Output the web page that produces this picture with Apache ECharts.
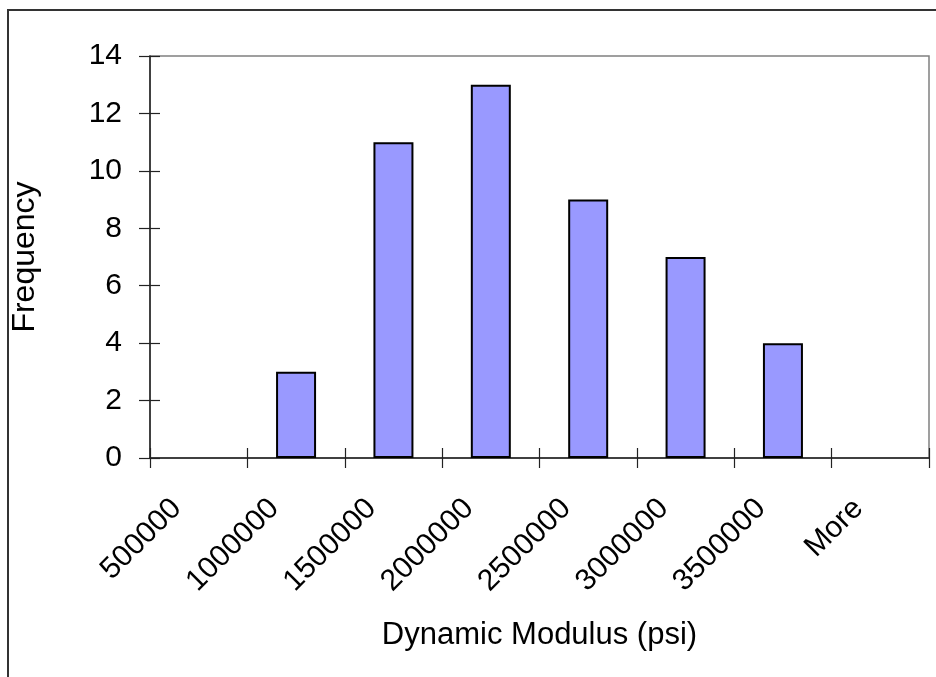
<!DOCTYPE html>
<html>
<head>
<meta charset="utf-8">
<script src="https://cdn.jsdelivr.net/npm/echarts@6/dist/echarts.min.js"></script>
<style>
  html, body { margin: 0; padding: 0; background: #fff; }
  #main { width: 936px; height: 677px; }
</style>
</head>
<body>
<div id="main"></div>
<script>
// histogram bins and counts
const categories = ['500000', '1000000', '1500000', '2000000', '2500000', '3000000', '3500000', 'More'];
const frequency = [0, 3, 11, 13, 9, 7, 4, 0];
const yTicks = { min: 0, max: 14, interval: 2 };

const FONT = '"Liberation Sans", Arial, sans-serif';
const chart = echarts.init(document.getElementById('main'));

const grid = { left: 150, top: 56, right: 7, bottom: 219 };

// empty bins get no outline (Excel draws nothing for a zero bar)
const barData = frequency.map(v => v === 0 ? { value: v, itemStyle: { borderWidth: 0 } } : v);

chart.setOption({
    animation: false,
    backgroundColor: '#fff',
    textStyle: { fontFamily: FONT },
    graphic: [{
        // outer chart frame (runs off the bottom/right of the picture)
        type: 'rect',
        shape: { x: 8, y: 10, width: 940, height: 700 },
        style: { fill: 'none', stroke: '#333', lineWidth: 2 },
        silent: true
    }],
    grid: Object.assign({ show: true, borderColor: '#808080', borderWidth: 1.5 }, grid),
    xAxis: [{
        type: 'category',
        data: categories,
        name: 'Dynamic Modulus (psi)',
        nameLocation: 'middle',
        nameGap: 162,
        nameTextStyle: { fontSize: 31, color: '#000', fontFamily: FONT },
        axisLine: { lineStyle: { color: '#222', width: 1.5 } },
        axisTick: { show: true, length: 10, lineStyle: { color: '#222', width: 1.2 } },
        axisLabel: { rotate: 45, fontSize: 30, color: '#000', margin: 24, padding: [0, 31, 0, 0], fontFamily: FONT, interval: 0 },
        splitLine: { show: false }
    }, {
        // inner half of the crossing ticks
        type: 'category',
        data: categories,
        position: 'bottom',
        axisLine: { show: false },
        axisTick: { show: true, inside: true, length: 10, lineStyle: { color: '#222', width: 1.2 } },
        axisLabel: { show: false },
        splitLine: { show: false }
    }],
    yAxis: [{
        type: 'value',
        min: yTicks.min,
        max: yTicks.max,
        interval: yTicks.interval,
        name: 'Frequency',
        nameLocation: 'middle',
        nameGap: 109,
        nameTextStyle: { fontSize: 32, color: '#000', fontFamily: FONT },
        axisLine: { show: true, lineStyle: { color: '#222', width: 1.5 } },
        axisTick: { show: true, length: 11, lineStyle: { color: '#222', width: 1.2 } },
        axisLabel: { fontSize: 30, color: '#000', margin: 28, fontFamily: FONT },
        splitLine: { show: false }
    }, {
        type: 'value',
        min: yTicks.min,
        max: yTicks.max,
        interval: yTicks.interval,
        position: 'left',
        axisLine: { show: false },
        axisTick: { show: true, inside: true, length: 10, lineStyle: { color: '#222', width: 1.2 } },
        axisLabel: { show: false },
        splitLine: { show: false }
    }],
    series: [{
        type: 'bar',
        data: barData,
        barWidth: 40,
        itemStyle: { color: '#9999FF', borderColor: '#000', borderWidth: 2 }
    }]
});
</script>
</body>
</html>
